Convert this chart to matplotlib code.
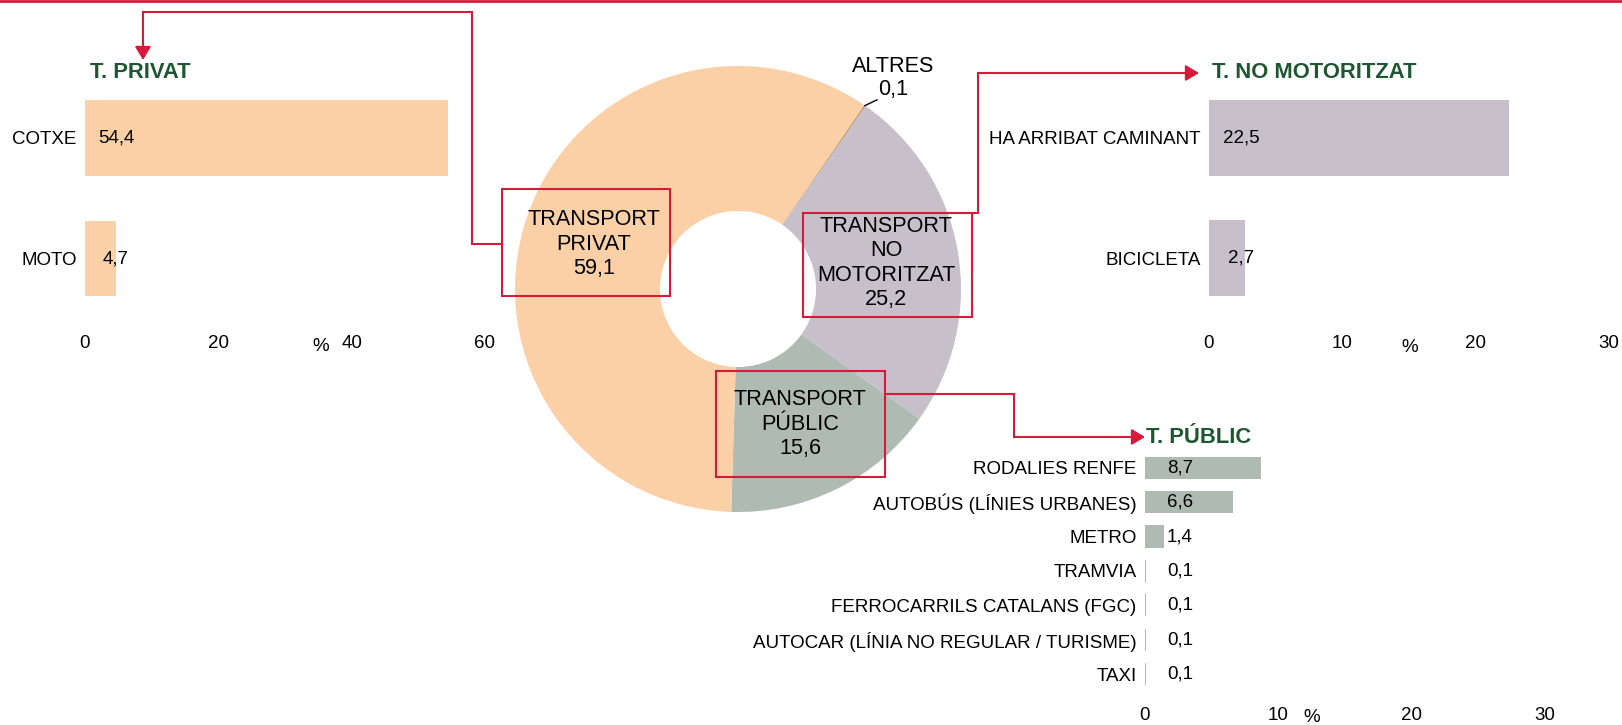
import numpy as np
import matplotlib
matplotlib.use('Agg')
import matplotlib.pyplot as plt
from matplotlib.patches import Rectangle

plt.rcParams['font.family'] = ['Liberation Sans', 'DejaVu Sans']

# === Data ===
pie_labels = ['ALTRES', 'TRANSPORT\nNO\nMOTORITZAT', 'TRANSPORT\nPÚBLIC', 'TRANSPORT\nPRIVAT']
pie_values = [0.1, 25.2, 15.6, 59.1]
pie_colors = ['#B8865A', '#C7C0CB', '#AEBAB2', '#FBD0A6']

privat_cats = ['COTXE', 'MOTO']
privat_vals = [54.4, 4.7]

nomot_cats = ['HA ARRIBAT CAMINANT', 'BICICLETA']
nomot_vals = [22.5, 2.7]

public_cats = ['RODALIES RENFE', 'AUTOBÚS (LÍNIES URBANES)', 'METRO', 'TRAMVIA',
               'FERROCARRILS CATALANS (FGC)', 'AUTOCAR (LÍNIA NO REGULAR / TURISME)', 'TAXI']
public_vals = [8.7, 6.6, 1.4, 0.1, 0.1, 0.1, 0.1]

RED = '#D7193A'
GREEN = '#1E5631'
W, H = 1622, 725
FS = 13.5     # axis / value text
FP = 15.6     # donut text
FT = 15.8     # panel titles


def fmt(v):
    return f'{v:.1f}'.replace('.', ',')


fig = plt.figure(figsize=(W / 100, H / 100), dpi=100)


def px_axes(x0, y0, x1, y1):
    return fig.add_axes([x0 / W, 1 - y1 / H, (x1 - x0) / W, (y1 - y0) / H])


def bar_panel(ax, cats, vals, color, xmax, step, label_off, height, xpad):
    y = np.arange(len(cats))
    ax.barh(y, vals, height=height, color=color)
    ax.set_ylim(len(cats) - 0.5, -0.5)
    ax.set_xlim(0, xmax)
    ax.set_xticks(range(0, xmax + 1, step))
    ax.set_yticks(y)
    ax.set_yticklabels(cats)
    ax.tick_params(length=0, labelsize=FS)
    ax.tick_params(axis='y', pad=6)
    ax.tick_params(axis='x', pad=xpad)
    for s in ax.spines.values():
        s.set_visible(False)
    ax.patch.set_visible(False)
    for i, v in enumerate(vals):
        ax.annotate(fmt(v), (0, i), xytext=(label_off, 0), textcoords='offset pixels',
                    ha='center', va='center', fontsize=FS)


# === Bar panels ===
ax1 = px_axes(85, 77.75, 485, 318.75)
bar_panel(ax1, privat_cats, privat_vals, pie_colors[3], 60, 20, 31, 0.63, 12)

ax2 = px_axes(1209, 77.5, 1609, 318.5)
bar_panel(ax2, nomot_cats, nomot_vals, pie_colors[1], 30, 10, 32, 0.63, 12)

ax3 = px_axes(1145, 450.5, 1545, 691.3)
bar_panel(ax3, public_cats, public_vals, pie_colors[2], 30, 10, 35, 0.64, 11)

# === Donut ===
axp = px_axes(515, 66, 961, 512)
wedges, _ = axp.pie(pie_values, colors=pie_colors, startangle=55.5, counterclock=False,
                    radius=1, wedgeprops=dict(width=0.65, linewidth=0))
axp.set_xlim(-1, 1)
axp.set_ylim(-1, 1)
th = np.deg2rad((wedges[0].theta1 + wedges[0].theta2) / 2)
axp.plot([np.cos(th), 0.623], [np.sin(th), 0.848], color='black', lw=1, clip_on=False)
axp.text(0.695, 0.945, f'{pie_labels[0]}\n{fmt(pie_values[0])}', ha='center', va='center',
         fontsize=FP, linespacing=1.15)

# === Overlay: boxes, arrows, titles ===
ov = fig.add_axes([0, 0, 1, 1])
ov.set_xlim(0, W)
ov.set_ylim(H, 0)
ov.axis('off')

ov.plot([0, W], [1, 1], color=RED, lw=2)

boxes = [((502, 189, 670, 296), (594, 244), 3),
         ((803, 213, 972, 317), (886, 263), 1),
         ((716, 371, 885, 477), (800, 424), 2)]
for (x0, y0, x1, y1), (tx, ty), k in boxes:
    ov.add_patch(Rectangle((x0, y0), x1 - x0, y1 - y0, fill=False, ec=RED, lw=1.5))
    ov.text(tx, ty, f'{pie_labels[k]}\n{fmt(pie_values[k])}', ha='center', va='center',
            fontsize=FP, linespacing=1.2)

paths = [[(502, 244), (472, 244), (472, 12), (143, 12), (143, 60)],
         [(972, 213), (978, 213), (978, 73), (1199, 73)],
         [(885, 394), (1014, 394), (1014, 437), (1145, 437)]]
for p in paths:
    xs, ys = zip(*p[:-1])
    ov.plot(xs, ys, color=RED, lw=1.5, solid_joinstyle='miter')
    ov.annotate('', xy=p[-1], xytext=p[-2],
                arrowprops=dict(arrowstyle='-|>,head_length=0.5,head_width=0.3', color=RED,
                                lw=1.5, shrinkA=0, shrinkB=0, mutation_scale=16))

ov.text(90, 72, 'T. PRIVAT', color=GREEN, fontsize=FT, fontweight='bold', ha='left', va='center')
ov.text(1212, 72, 'T. NO MOTORITZAT', color=GREEN, fontsize=FT, fontweight='bold', ha='left', va='center')
ov.text(1146, 437, 'T. PÚBLIC', color=GREEN, fontsize=FT, fontweight='bold', ha='left', va='center')

ov.text(321, 346, '%', fontsize=FS, ha='center', va='center')
ov.text(1410, 347, '%', fontsize=FS, ha='center', va='center')
ov.text(1312, 718, '%', fontsize=FS, ha='center', va='center')

fig.savefig('out.png', dpi=100)
